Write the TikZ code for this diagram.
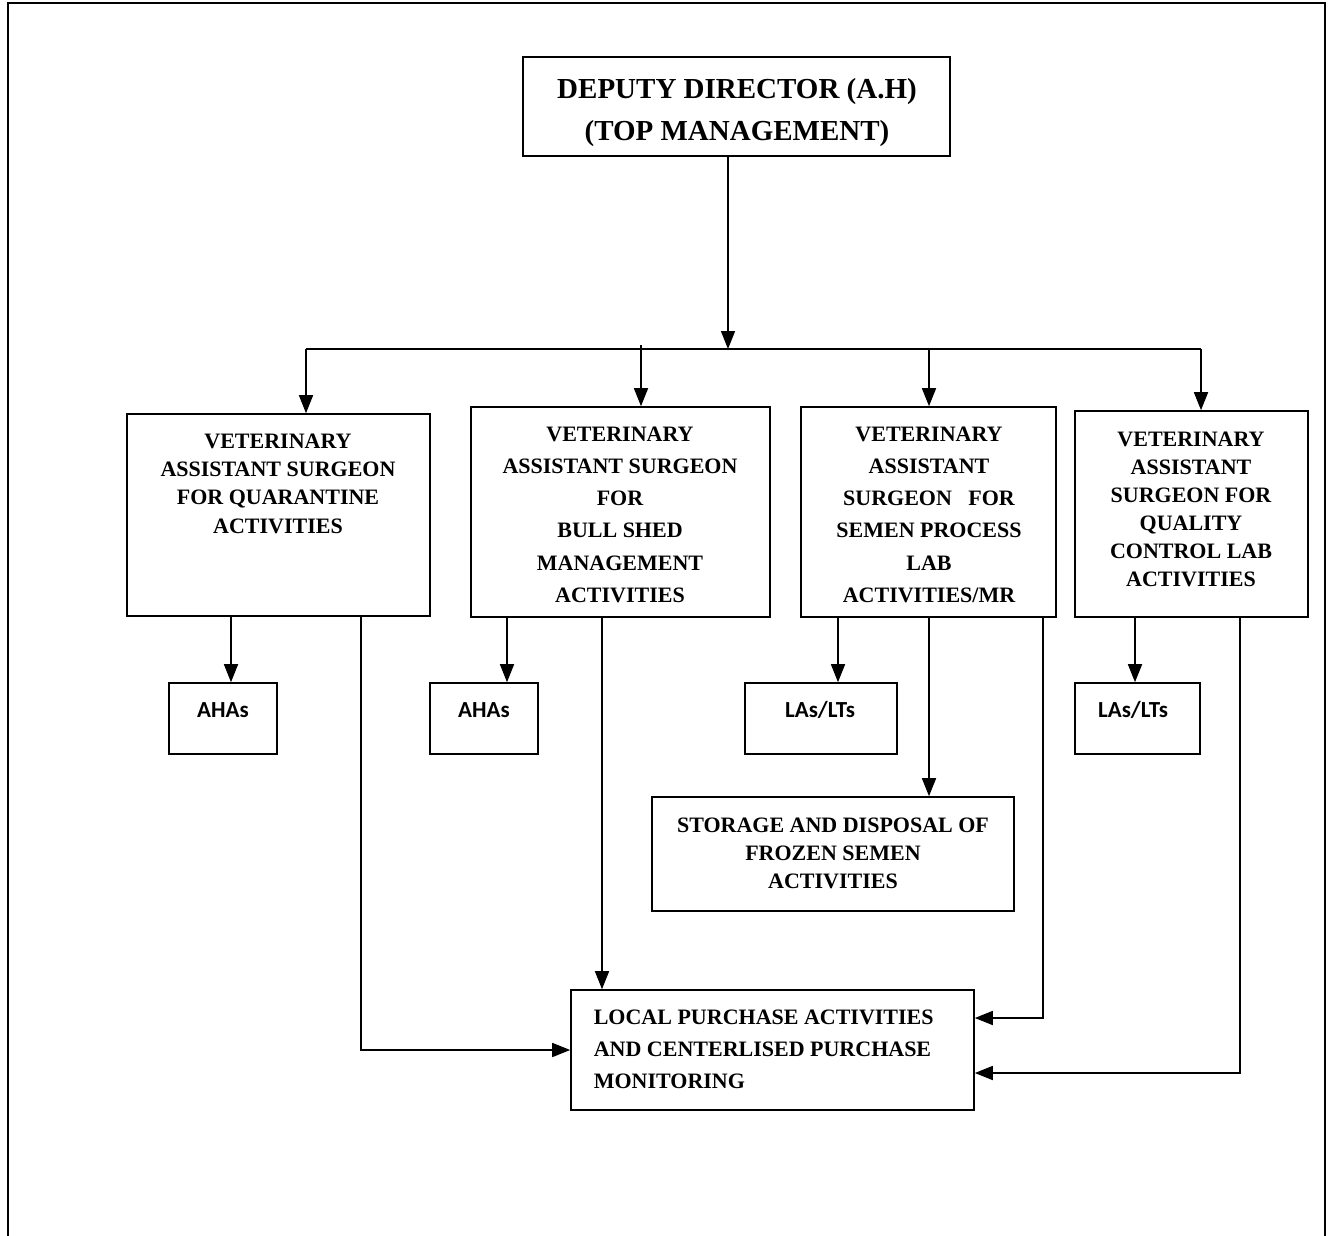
\documentclass[tikz,border=0pt]{standalone}
\usepackage{fontspec}
\setmainfont{Liberation Serif}
\newfontfamily\staffont{Carlito}
\usetikzlibrary{arrows.meta}
\tikzstyle{unit}=[rectangle, draw, line width=1.6pt, inner sep=0pt]
\tikzstyle{unittext}=[inner sep=0pt, align=center, anchor=north, font=\bfseries\fontsize{22}{28.3}\selectfont]
\tikzstyle{stafftext}=[inner sep=0pt, anchor=north, font=\staffont\bfseries\fontsize{23}{26}\selectfont]
\tikzstyle{flow}=[-{Triangle[length=18pt, width=14pt]}, line width=1.6pt]

\begin{document}
\begin{tikzpicture}[x=1pt, y=-1pt, line width=1.6pt]
                    \useasboundingbox (0,0) rectangle (1330,1236);
                    \draw (8,1236) -- (8,3) -- (1325,3) -- (1325,1236);
                    % top
                    \node[unit, minimum width=427pt, minimum height=99pt] (dd) at (736.5,106.5) {};
                    \node[unittext, font=\bfseries\fontsize{29}{42}\selectfont] (dd-t) at (737,78)
                        {DEPUTY DIRECTOR (A.H)\\(TOP MANAGEMENT)};
                    % surgeons
                    \node[unit, minimum width=303pt, minimum height=202pt] (vq) at (278.5,515) {};
                    \node[unittext] (vq-t) at (278,433)
                        {VETERINARY\\ASSISTANT SURGEON\\FOR QUARANTINE\\ACTIVITIES};
                    \node[unit, minimum width=299pt, minimum height=210pt] (vb) at (620.5,512) {};
                    \node[unittext, font=\bfseries\fontsize{22}{32.2}\selectfont] (vb-t) at (620,426)
                        {VETERINARY\\ASSISTANT SURGEON\\FOR\\BULL SHED\\MANAGEMENT\\ACTIVITIES};
                    \node[unit, minimum width=255pt, minimum height=210pt] (vs) at (928.5,512) {};
                    \node[unittext, font=\bfseries\fontsize{22}{32.2}\selectfont] (vs-t) at (929,426)
                        {VETERINARY\\ASSISTANT\\SURGEON\ \ \ FOR\\SEMEN PROCESS\\LAB\\ACTIVITIES/MR};
                    \node[unit, minimum width=233pt, minimum height=206pt] (vc) at (1191.5,514) {};
                    \node[unittext, font=\bfseries\fontsize{22}{28}\selectfont] (vc-t) at (1191,431)
                        {VETERINARY\\ASSISTANT\\SURGEON FOR\\QUALITY\\CONTROL LAB\\ACTIVITIES};
                    % staff
                    \node[unit, minimum width=108pt, minimum height=71pt] (aha1) at (223,718.5) {};
                    \node[stafftext] (aha1-t) at (223,702) {AHAs};
                    \node[unit, minimum width=108pt, minimum height=71pt] (aha2) at (484,718.5) {};
                    \node[stafftext] (aha2-t) at (484,702) {AHAs};
                    \node[unit, minimum width=152pt, minimum height=71pt] (las1) at (821,718.5) {};
                    \node[stafftext] (las1-t) at (820,701) {LAs/LTs};
                    \node[unit, minimum width=125pt, minimum height=71pt] (las2) at (1137.5,718.5) {};
                    \node[stafftext] (las2-t) at (1133,701) {LAs/LTs};
                    % storage and purchase
                    \node[unit, minimum width=362pt, minimum height=114pt] (fs) at (833,854) {};
                    \node[unittext, font=\bfseries\fontsize{22}{28}\selectfont] (fs-t) at (833,817)
                        {STORAGE AND DISPOSAL OF\\FROZEN SEMEN\\ACTIVITIES};
                    \node[unit, minimum width=403pt, minimum height=120pt] (lp) at (772.5,1050) {};
                    \node[unittext, anchor=north west, align=left, font=\bfseries\fontsize{22}{32.2}\selectfont] (lp-t) at (593,1009)
                        {LOCAL PURCHASE ACTIVITIES\\AND CENTERLISED PURCHASE\\MONITORING};
                    % connectors
                    \coordinate (bus) at (728,349);
                    \coordinate (busL) at (306,349);
                    \coordinate (busR) at (1201,349);
                    \coordinate (d2) at (641,345);
                    \coordinate (d3) at (929,349);
                    \draw[flow] (dd.south -| bus) -- (bus);
                    \draw (busL) -- (busR);
                    \draw[flow] (busL) -- (vq.north -| busL);
                    \draw[flow] (d2) -- (vb.north -| d2);
                    \draw[flow] (d3) -- (vs.north -| d3);
                    \draw[flow] (busR) -- (vc.north -| busR);
                    \coordinate (a1) at (231,683);
                    \coordinate (a2) at (507,683);
                    \coordinate (l1) at (838,683);
                    \coordinate (l2) at (1135,683);
                    \coordinate (f1) at (929,797);
                    \draw[flow] (vq.south -| a1) -- (aha1.north -| a1);
                    \draw[flow] (vb.south -| a2) -- (aha2.north -| a2);
                    \draw[flow] (vs.south -| l1) -- (las1.north -| l1);
                    \draw[flow] (vc.south -| l2) -- (las2.north -| l2);
                    \draw[flow] (vs.south -| f1) -- (fs.north -| f1);
                    \coordinate (p2) at (602,990);
                    \coordinate (p1) at (361,1050);
                    \coordinate (p3) at (1043,1018);
                    \coordinate (p4) at (1240,1073);
                    \draw[flow] (vb.south -| p2) -- (lp.north -| p2);
                    \draw[flow] (vq.south -| p1) |- (lp.west |- p1);
                    \draw[flow] (vs.south -| p3) |- (lp.east |- p3);
                    \draw[flow] (vc.south -| p4) |- (lp.east |- p4);
                \end{tikzpicture}
\end{document}
